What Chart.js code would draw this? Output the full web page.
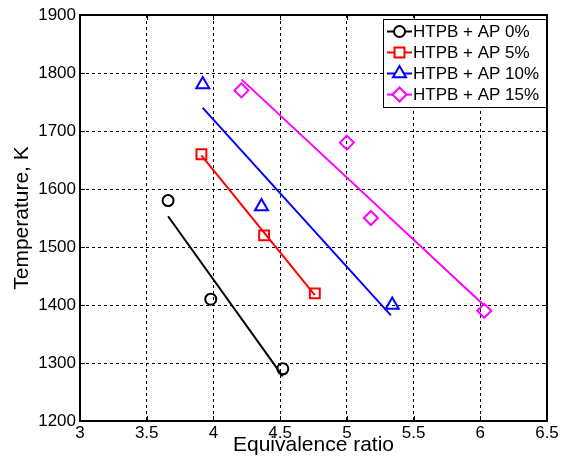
<!doctype html>
<html lang="en">

<head>
  <meta charset="utf-8">
  <title>Flame temperature vs equivalence ratio</title>
  <style>
    * {
      margin: 0;
      padding: 0;
    }

    body {
      background: #fff;
    }

    .chartBox {
      width: 568px;
      height: 464px;
    }
  </style>
</head>

<body>
  <div class="chartBox">
    <canvas id="myChart" width="568" height="464"></canvas>
  </div>
  <script src="https://cdn.jsdelivr.net/npm/chart.js"></script>
  <script>

    // data: measured points per AP loading
    const seriesLabels = ['HTPB + AP 0%', 'HTPB + AP 5%', 'HTPB + AP 10%', 'HTPB + AP 15%'];
    const seriesColors = ['#000000', '#ff0000', '#0000ff', '#ff00ff'];
    const seriesMarkers = ['circle', 'rect', 'triangle', 'rectRot'];

    const phiAP0 = [3.66, 3.98, 4.52];
    const tempAP0 = [1580, 1410, 1290];
    const phiAP5 = [3.91, 4.38, 4.76];
    const tempAP5 = [1660, 1520, 1420];
    const phiAP10 = [3.92, 4.36, 5.34];
    const tempAP10 = [1780, 1570, 1400];
    const phiAP15 = [4.21, 5.0, 5.18, 6.03];
    const tempAP15 = [1770, 1680, 1550, 1390];

    // linear trend lines (end points)
    const fitPhiAP0 = [3.66, 4.52];
    const fitTempAP0 = [1553, 1277];
    const fitPhiAP5 = [3.91, 4.76];
    const fitTempAP5 = [1658, 1417];
    const fitPhiAP10 = [3.92, 5.33];
    const fitTempAP10 = [1740, 1382];
    const fitPhiAP15 = [4.21, 6.03];
    const fitTempAP15 = [1789, 1399];

    // axis ticks
    const xTicks = [3, 3.5, 4, 4.5, 5, 5.5, 6, 6.5];
    const yTicks = [1200, 1300, 1400, 1500, 1600, 1700, 1800, 1900];

    const pointsX = [phiAP0, phiAP5, phiAP10, phiAP15];
    const pointsY = [tempAP0, tempAP5, tempAP10, tempAP15];
    const fitX = [fitPhiAP0, fitPhiAP5, fitPhiAP10, fitPhiAP15];
    const fitY = [fitTempAP0, fitTempAP5, fitTempAP10, fitTempAP15];
    const markerRadius = { circle: 5.5, rect: 7, triangle: 7.5, rectRot: 7 };

    const toXY = (xs, ys) => xs.map((v, i) => ({ x: v, y: ys[i] }));

    const datasets = [];
    seriesLabels.forEach((label, i) => {
      datasets.push({
        label: label + ' fit',
        data: toXY(fitX[i], fitY[i]),
        showLine: true,
        borderColor: seriesColors[i],
        borderWidth: 2,
        pointRadius: 0,
        fill: false
      });
      datasets.push({
        label: label,
        data: toXY(pointsX[i], pointsY[i]),
        showLine: false,
        borderColor: seriesColors[i],
        backgroundColor: 'rgba(0,0,0,0)',
        pointStyle: seriesMarkers[i],
        pointRadius: markerRadius[seriesMarkers[i]],
        pointBorderWidth: 2
      });
    });

    // box around plot area + inward tick marks
    const axesBox = {
      id: 'axesBox',
      afterDraw(chart) {
        const { ctx, chartArea: { top, bottom, left, right }, scales: { x, y } } = chart;
        ctx.save();
        ctx.strokeStyle = '#000';
        ctx.lineWidth = 1;
        ctx.beginPath();
        xTicks.forEach(v => {
          const px = Math.round(x.getPixelForValue(v)) + 0.5;
          ctx.moveTo(px, bottom); ctx.lineTo(px, bottom - 5);
          ctx.moveTo(px, top); ctx.lineTo(px, top + 5);
        });
        yTicks.forEach(v => {
          const py = Math.round(y.getPixelForValue(v)) + 0.5;
          ctx.moveTo(left, py); ctx.lineTo(left + 5, py);
          ctx.moveTo(right, py); ctx.lineTo(right - 5, py);
        });
        ctx.stroke();
        ctx.lineWidth = 2;
        ctx.strokeRect(left, top, right - left, bottom - top);
        ctx.restore();
      }
    };

    // legend box in the upper right corner
    const boxLegend = {
      id: 'boxLegend',
      afterDraw(chart) {
        const { ctx, chartArea: { top, right } } = chart;
        const w = 163, h = 88;
        const bx = right - w - 1, by = top + 4;
        ctx.save();
        ctx.fillStyle = '#fff';
        ctx.fillRect(bx, by, w, h);
        ctx.strokeStyle = '#000';
        ctx.lineWidth = 1;
        ctx.strokeRect(bx + 0.5, by + 0.5, w, h);
        ctx.font = '17px "Liberation Sans", Arial, sans-serif';
        ctx.textBaseline = 'middle';
        ctx.textAlign = 'left';
        seriesLabels.forEach((label, i) => {
          const ly = by + 12.5 + i * 21;
          ctx.strokeStyle = seriesColors[i];
          ctx.lineWidth = 2;
          ctx.beginPath();
          ctx.moveTo(bx + 4, ly);
          ctx.lineTo(bx + 29, ly);
          ctx.stroke();
          ctx.fillStyle = '#fff';
          Chart.helpers.drawPoint(ctx, {
            pointStyle: seriesMarkers[i],
            radius: markerRadius[seriesMarkers[i]],
            borderWidth: 2
          }, bx + 16.5, ly);
          ctx.fillStyle = '#000';
          ctx.fillText(label, bx + 30, ly + 1);
        });
        ctx.restore();
      }
    };

    const tickFont = { family: '"Liberation Sans", Arial, sans-serif', size: 17 };
    const titleFont = { family: '"Liberation Sans", Arial, sans-serif', size: 21 };

    const config = {
      type: 'scatter',
      data: { datasets },
      options: {
        responsive: false,
        animation: false,
        layout: { padding: { top: 15, right: 21, left: 0, bottom: 0 } },
        plugins: {
          legend: { display: false },
          tooltip: { enabled: false }
        },
        scales: {
          x: {
            type: 'linear',
            min: 3,
            max: 6.5,
            afterBuildTicks: scale => { scale.ticks = xTicks.map(v => ({ value: v })); },
            afterFit: scale => { scale.height = 43; },
            ticks: { color: '#000', font: tickFont, padding: 2, maxRotation: 0, callback: v => String(v) },
            grid: { color: '#000', lineWidth: 1, drawTicks: false },
            border: { display: false, dash: [3, 3] },
            title: { display: true, text: 'Equivalence ratio', color: '#000', font: titleFont, padding: { top: 0, bottom: 6 } }
          },
          y: {
            type: 'linear',
            min: 1200,
            max: 1900,
            afterBuildTicks: scale => { scale.ticks = yTicks.map(v => ({ value: v })); },
            afterFit: scale => { scale.width = 80; },
            ticks: { color: '#000', font: tickFont, padding: 4, callback: v => String(v) },
            grid: { color: '#000', lineWidth: 1, drawTicks: false },
            border: { display: false, dash: [3, 3] },
            title: { display: true, text: 'Temperature, K', color: '#000', font: titleFont, padding: { top: 10, bottom: 0 } }
          }
        }
      },
      plugins: [axesBox, boxLegend]
    };

    const myChart = new Chart(document.getElementById('myChart'), config);
  </script>
</body>

</html>
